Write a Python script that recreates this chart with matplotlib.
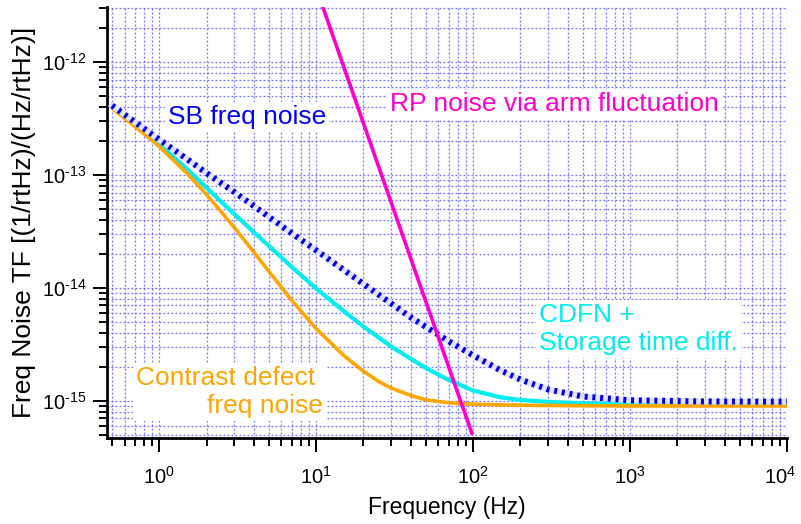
import matplotlib
matplotlib.use('Agg')
import matplotlib.pyplot as plt
import matplotlib.transforms as mtransforms
from matplotlib.ticker import LogLocator, NullFormatter

plt.rcParams['font.family'] = ['Liberation Sans', 'DejaVu Sans']
plt.rcParams['mathtext.fontset'] = 'custom'
plt.rcParams['mathtext.rm'] = 'Liberation Sans'
plt.rcParams['mathtext.it'] = 'Liberation Sans:italic'
plt.rcParams['mathtext.bf'] = 'Liberation Sans:bold'

# ---- data ----
freq = [0.5, 0.7, 1, 1.5, 2, 3, 4, 5, 7, 10, 15, 20, 25, 30, 40, 50, 70, 100,
        150, 200, 300, 500, 1000, 3000, 10000]
contrast_defect = [3.89e-13, 2.69e-13, 1.787e-13, 1.035e-13, 6.71e-14, 3.44e-14,
                   2.08e-14, 1.397e-14, 7.73e-15, 4.35e-15, 2.52e-15, 1.83e-15,
                   1.488e-15, 1.30e-15, 1.119e-15, 1.023e-15, 9.64e-16, 9.35e-16,
                   9.22e-16, 9.18e-16, 9.12e-16, 9.07e-16, 9.03e-16, 9.03e-16, 9.03e-16]
cdfn_storage = [4.04e-13, 2.805e-13, 1.869e-13, 1.128e-13, 7.70e-14, 4.52e-14,
                3.12e-14, 2.353e-14, 1.528e-14, 9.88e-15, 6.23e-15, 4.55e-15,
                3.65e-15, 3.035e-15, 2.367e-15, 1.955e-15, 1.531e-15, 1.238e-15,
                1.076e-15, 1.020e-15, 9.82e-16, 9.52e-16, 9.37e-16, 9.29e-16, 9.27e-16]
sb_freq_noise = [4.12e-13, 2.94e-13, 2.06e-13, 1.385e-13, 1.041e-13, 7.07e-14,
                 5.32e-14, 4.25e-14, 3.04e-14, 2.15e-14, 1.443e-14, 1.085e-14,
                 8.72e-15, 7.29e-15, 5.50e-15, 4.52e-15, 3.37e-15, 2.53e-15,
                 1.862e-15, 1.547e-15, 1.264e-15, 1.096e-15, 1.014e-15, 9.90e-16, 9.86e-16]
rp_freq = [10, 98]
rp_noise = [4.5e-12, 5.2e-16]

x_ticks = [1, 10, 100, 1000, 10000]
x_ticklabels = [r'$10^{0}$', r'$10^{1}$', r'$10^{2}$', r'$10^{3}$', r'$10^{4}$']
y_ticks = [1e-15, 1e-14, 1e-13, 1e-12]
y_ticklabels = ['$10^{\u2010' + '15}$', '$10^{\u2010' + '14}$',
                '$10^{\u2010' + '13}$', '$10^{\u2010' + '12}$']

xlim = (0.464, 1e4)
ylim = (4.7e-16, 3.07e-12)

fig = plt.figure(figsize=(8.01, 5.24), dpi=100)
ax = fig.add_axes([107/801, 1-438/524, (787-107)/801, (438-7)/524])
ax.set_xscale('log')
ax.set_yscale('log')
ax.set_xlim(*xlim)
ax.set_ylim(*ylim)

ax.set_xticks(x_ticks)
ax.set_xticklabels(x_ticklabels)
ax.set_yticks(y_ticks)
ax.set_yticklabels(y_ticklabels)
ax.xaxis.set_minor_locator(LogLocator(base=10, subs=range(2, 10), numticks=100))
ax.yaxis.set_minor_locator(LogLocator(base=10, subs=range(2, 10), numticks=100))
ax.xaxis.set_minor_formatter(NullFormatter())
ax.yaxis.set_minor_formatter(NullFormatter())

grid_kw = dict(color='#7070ff', linewidth=0.9, linestyle=(0, (1.5, 1.7)))
ax.grid(True, which='major', **grid_kw)
ax.grid(True, which='minor', **grid_kw)
ax.set_axisbelow(True)

ax.plot(freq, cdfn_storage, color='#00eeee', lw=3.0, solid_capstyle='butt', zorder=3)
ax.plot(freq, contrast_defect, color='#ffa500', lw=2.6, solid_capstyle='butt', zorder=4)
ax.plot(freq, sb_freq_noise, color='#e2e2ff', lw=4.3, zorder=5)
ax.plot(freq, sb_freq_noise, color='#0000dd', lw=4.3, linestyle=(0, (0.5, 0.8)),
        dash_capstyle='butt', zorder=6)
ax.plot(rp_freq, rp_noise, color='#ff00cc', lw=2.6, zorder=7)

for s in ['top', 'right']:
    ax.spines[s].set_visible(False)
for s in ['left', 'bottom']:
    ax.spines[s].set_linewidth(2.0)

ax.tick_params(which='major', direction='out', length=10, width=1.4, labelsize=14.5)
ax.tick_params(axis='x', which='major', pad=10)
ax.tick_params(axis='y', which='major', pad=5)
ax.tick_params(which='minor', direction='out', length=5.5, width=1.4)

# nudge the last x tick label slightly left so it stays inside the figure
last_label = ax.get_xticklabels()[-1]
last_label.set_transform(last_label.get_transform() +
                         mtransforms.ScaledTranslation(-5/72, 0, fig.dpi_scale_trans))

ax.set_xlabel('Frequency (Hz)', fontsize=16.5)
ax.xaxis.set_label_coords(0.5, -0.134)
ax.set_ylabel('Freq Noise TF [(1/rtHz)/(Hz/rtHz)]', fontsize=19)
ax.yaxis.set_label_coords(-0.1044, 0.5)

box = dict(facecolor='white', edgecolor='none', pad=2)
ax.text(1.136, 2.82e-13, 'SB freq noise', color='#0000ff', fontsize=19,
        ha='left', va='baseline', bbox=box, zorder=8)
ax.text(29.5, 3.71e-13, 'RP noise via arm fluctuation', color='#ff00cc', fontsize=19,
        ha='left', va='baseline', bbox=box, zorder=8)
ax.text(262, 2.82e-15, 'CDFN +\nStorage time diff.', color='#00eeee', fontsize=19,
        ha='left', va='baseline', linespacing=1.2, bbox=box, zorder=8)
ax.text(11.0, 7.78e-16, 'Contrast defect \nfreq noise', color='#ffa500', fontsize=19,
        ha='right', va='baseline', multialignment='right', linespacing=1.2,
        bbox=box, zorder=8)

fig.savefig('out.png', dpi=100)
